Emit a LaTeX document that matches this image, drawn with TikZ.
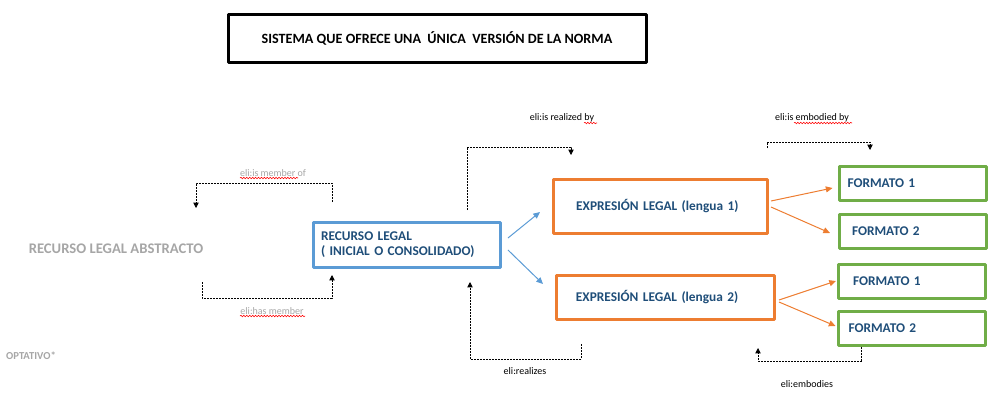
\documentclass[tikz,border=0pt]{standalone}
\usepackage{fontspec}
\setmainfont{Carlito}
\usetikzlibrary{arrows.meta,calc,decorations.pathmorphing}
\definecolor{boxblue}{HTML}{5B9BD5}
\definecolor{boxorange}{HTML}{ED7D31}
\definecolor{boxgreen}{HTML}{70AD47}
\definecolor{textblue}{HTML}{1F4E79}
\definecolor{absgray}{HTML}{A6A6A6}
\tikzset{
  box/.style={line width=2.25pt,font=\fontsize{10}{11.3}\selectfont\bfseries,text=textblue,align=left,inner ysep=0pt},
  fmtbox/.style={box,draw=boxgreen,minimum height=25.5pt},
  link/.style={line width=0.75pt,-{Triangle[length=5pt,width=4.5pt]}},
  rel/.style={line width=0.6pt,dash pattern=on 1.5pt off 0.75pt,-{Triangle[length=4pt,width=4pt]}},
  rellabel/.style={font=\fontsize{7.5}{8}\selectfont,inner sep=0pt},
  squiggle/.style={red,line width=0.4pt,decorate,decoration={snake,amplitude=0.6pt,segment length=2.2pt}}
}
\begin{document}
\begin{tikzpicture}[x=0.75pt,y=-0.75pt,line join=round]
    \useasboundingbox (0,0) rectangle (998,401);

    \node (title) at (437,38.5) [draw,line width=2.25pt,minimum width=313.5pt,minimum height=36pt,font=\fontsize{10.6}{12}\selectfont\bfseries] {SISTEMA QUE OFRECE UNA \ ÚNICA \ VERSIÓN DE LA NORMA};
    \node (abs) at (116,249) [font=\fontsize{11}{13}\selectfont\bfseries,text=absgray] {RECURSO LEGAL ABSTRACTO};
    \node (opt) at (31,356) [font=\fontsize{8}{9}\selectfont\bfseries,text=absgray] {OPTATIVO*};

    \node (recurso) at (407,245) [box,draw=boxblue,minimum height=33.75pt,inner xsep=5.6pt,text width=129pt] {RECURSO LEGAL\\( INICIAL O CONSOLIDADO)};
    \node (expr1) at (660.5,206.5) [box,draw=boxorange,minimum height=40.5pt,inner xsep=17pt,text width=126.5pt] {EXPRESIÓN LEGAL (lengua 1)};
    \node (expr2) at (665.5,297.5) [box,draw=boxorange,minimum height=33pt,inner xsep=14.6pt,text width=134.3pt] {EXPRESIÓN LEGAL (lengua 2)};

    \node (fmtAa) at (912.5,183) [fmtbox,inner xsep=6.4pt,text width=97.45pt] {FORMATO 1};
    \node (fmtAb) at (913,231.5) [fmtbox,inner xsep=9.4pt,text width=91.45pt] {FORMATO 2};
    \node (fmtBa) at (912,281.5) [fmtbox,inner xsep=10.9pt,text width=88.45pt] {FORMATO 1};
    \node (fmtBb) at (911.5,328) [fmtbox,inner xsep=7.9pt,text width=94.45pt] {FORMATO 2};

    \draw[link,boxblue] ($(recurso.east)+(6,-7)$) -- ($(expr1.west)+(-12,5.5)$);
    \draw[link,boxblue] ($(recurso.east)+(6,5)$) -- ($(expr2.west)+(-12,-13.5)$);
    \draw[link,boxorange] ($(expr1.east)+(2,-5.5)$) -- ($(fmtAa.west)+(-5,5)$);
    \draw[link,boxorange] ($(expr1.east)+(2,0.5)$) -- ($(fmtAb.west)+(-8,1.5)$);
    \draw[link,boxorange] ($(expr2.east)+(3,2.5)$) -- ($(fmtBa.west)+(-1,-0.5)$);
    \draw[link,boxorange] ($(expr2.east)+(3,4.5)$) -- ($(fmtBb.west)+(-1,-2)$);

    \coordinate (memberofA) at (332,202);
    \coordinate (memberofB) at (196,208);
    \coordinate (hasmemberA) at (202,282);
    \coordinate (hasmemberB) at (332,275);
    \coordinate (realizedbyA) at (467,210);
    \coordinate (realizedbyB) at (571,155);
    \coordinate (embodiedbyA) at (767,148);
    \coordinate (embodiedbyB) at (870,150);
    \coordinate (realizesA) at (581,344);
    \coordinate (realizesB) at (470,282);
    \coordinate (embodiesB) at (758,348);

    \draw[rel] (memberofA) -- ++(0,-19) -| (memberofB);
    \draw[rel] (hasmemberA) -- ++(0,16) -| (hasmemberB);
    \draw[rel] (realizedbyA) -- ++(0,-63) -| (realizedbyB);
    \draw[rel] (embodiedbyA) -- ++(0,-6) -| (embodiedbyB);
    \draw[rel] (realizesA) -- ++(0,15) -| (realizesB);
    \draw[rel] ($(fmtBb.south west)+(25,0)$) -- ++(0,15) -| (embodiesB);

    \node (memberof) at (273,173) [rellabel,text=absgray] {eli:is member of};
    \node (hasmember) at (272,311) [rellabel,text=absgray] {eli:has member};
    \node (realizedby) at (562,118) [rellabel] {eli:is realized by};
    \node (embodiedby) at (812,118) [rellabel] {eli:is embodied by};
    \node (realizes) at (525,371) [rellabel] {eli:realizes};
    \node (embodies) at (807,384) [rellabel] {eli:embodies};

    \draw[squiggle] (240,178) -- (298,178);
    \draw[squiggle] (240,316) -- (305,316);
    \draw[squiggle] (584,123) -- (597,123);
    \draw[squiggle] (794,123) -- (852,123);
  \end{tikzpicture}
\end{document}
